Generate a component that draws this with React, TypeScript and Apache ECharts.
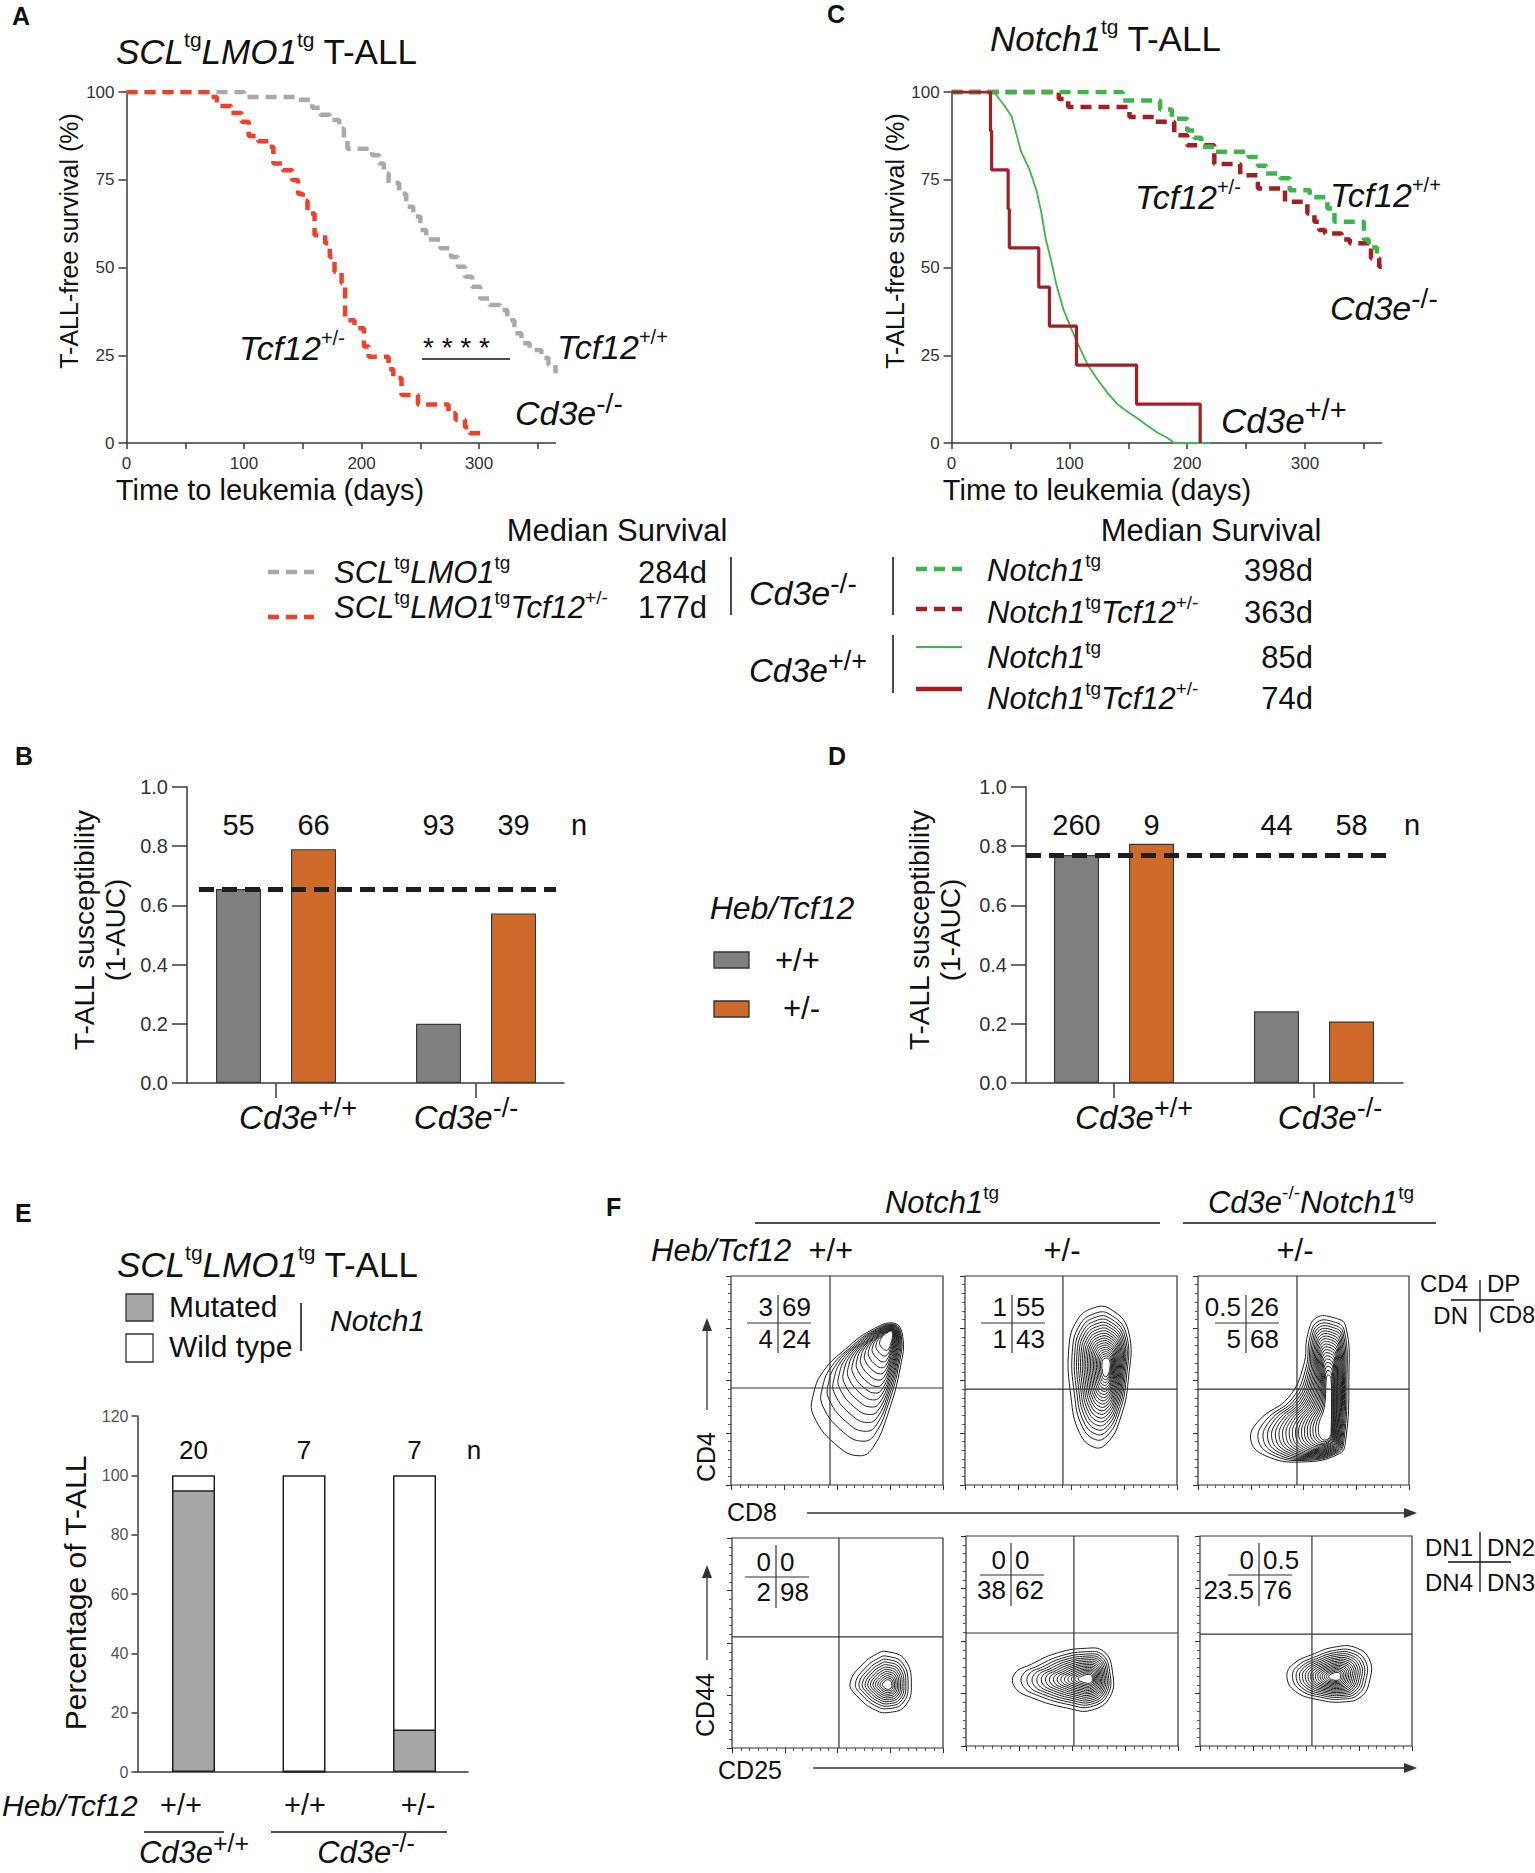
import React, { useEffect, useRef } from "react";
import * as echarts from "echarts";

const FONT = "'Liberation Sans', Arial, Helvetica, sans-serif";
const INK = "#111111";
const AXIS = "#3a3a3a";

// ---------------- Panel A : SCLtgLMO1tg T-ALL (Cd3e-/-) ----------------
const daysTicks = [0, 50, 100, 150, 200, 250, 300, 350];
const daysLabels = [0, 100, 200, 300];
// [day, % T-ALL-free]
const sclLmo1Tcf12WT = [
  [0, 100], [100, 98.6], [145, 97.8], [158, 95.5], [165, 93.5], [173, 92], [181, 89.5], [185, 86.5],
  [188, 83.8], [209, 82], [215, 79.6], [219, 76.8], [223, 74.1], [232, 71], [238, 67.3], [244, 64.5],
  [250, 60.7], [255, 58], [267, 55.5], [276, 53], [282, 50.2], [288, 47.4], [294, 44.5], [301, 41.2],
  [309, 39.3], [318, 37.9], [324, 35], [330, 31.3], [336, 28.4], [343, 26.5], [353, 24.2], [359, 22.3],
  [365, 19.9],
];
const sclLmo1Tcf12Het = [
  [0, 100], [72, 98.6], [77, 96], [89, 94], [98, 91.5], [104, 87.5], [112, 86], [121, 84.4], [125, 79.6],
  [133, 77.7], [141, 74.9], [146, 71], [150, 69], [154, 65.4], [160, 59.2], [169, 56.9], [173, 53],
  [177, 48.8], [183, 45.5], [186, 35], [194, 32.7], [202, 27.5], [206, 24.6], [223, 21], [227, 18.5],
  [234, 13.7], [248, 11], [274, 8.5], [280, 6.6], [288, 4.5], [292, 2.8], [301, 2.8],
];
const medianA = [284, 177];

// ---------------- Panel C : Notch1tg T-ALL ----------------
const notch1Cd3eKoTcf12WT = [
  [0, 100], [145, 97.6], [177, 95], [187, 92.4], [200, 89], [206, 87], [212, 84.4], [223, 83],
  [252, 81.5], [260, 79], [267, 76.8], [279, 75.4], [287, 72], [304, 70], [319, 66.8], [325, 63],
  [350, 58], [354, 55.7], [361, 54],
];
const notch1Cd3eKoTcf12Het = [
  [0, 100], [91, 98], [99, 95.7], [151, 92.9], [172, 91.5], [189, 87.7], [200, 84.8], [223, 79.5],
  [245, 76.3], [260, 72.5], [283, 68.7], [302, 65.4], [308, 63], [312, 60.7], [317, 59.7], [331, 58],
  [338, 56.9], [356, 52.6], [363, 50.2], [371, 47.9],
];
const notch1Cd3eWtTcf12WT = [
  [0, 100], [36, 100], [45, 96], [51, 93], [55, 88], [59, 83], [66, 78], [72, 72], [76, 66], [80, 58],
  [84.5, 52], [89, 45], [95, 38], [101, 33], [107.5, 28], [116, 22], [124, 18], [133, 14], [141, 11],
  [149, 9], [158, 7], [166, 5], [174.5, 3], [183, 1.5], [189, 0], [220, 0],
];
const notch1Cd3eWtTcf12Het = [
  [0, 100], [33, 88.9], [34, 77.8], [48, 66.7], [49, 55.6], [74, 44.4], [83, 33.3], [106, 22.2],
  [157, 11.1], [211, 0],
];
const medianC = [398, 363, 85, 74];

// ---------------- Panels B / D : T-ALL susceptibility (1-AUC) ----------------
const cd3eGroups = ["+/+", "-/-"];
const suscB_Tcf12WT = [0.655, 0.2];
const suscB_Tcf12Het = [0.79, 0.573];
const nB_Tcf12WT = [55, 93];
const nB_Tcf12Het = [66, 39];
const suscD_Tcf12WT = [0.77, 0.242];
const suscD_Tcf12Het = [0.808, 0.208];
const nD_Tcf12WT = [260, 44];
const nD_Tcf12Het = [9, 58];
const suscTicks = [0, 0.2, 0.4, 0.6, 0.8, 1.0];

// ---------------- Panel E : Notch1 mutation status ----------------
const eTcf12 = ["+/+", "+/+", "+/-"];
const eCd3e = ["+/+", "-/-"];
const eMutated = [95, 0, 14.3];
const eWildType = [5, 100, 85.7];
const eN = [20, 7, 7];

// ---------------- Panel F : flow cytometry ----------------
const fTcf12 = ["+/+", "+/-", "+/-"];
// quadrant percentages: [upper-left, upper-right, lower-left, lower-right]
const cd4cd8Stats = [["3", "69", "4", "24"], ["1", "55", "1", "43"], ["0.5", "26", "5", "68"]];
const dnStats = [["0", "0", "2", "98"], ["0", "0", "38", "62"], ["0", "0.5", "23.5", "76"]];
// gates [CD8 / CD25 cut, CD4 / CD44 cut] in display units (0-1)
const cd4cd8Gates = [[0.467, 0.464], [0.462, 0.459], [0.469, 0.459]];
const dnGates = [[0.507, 0.529], [0.509, 0.538], [0.528, 0.533]];
// outer contour of each population and its densest point (display units)
const cd4cd8Contours = [
  [[0.77, 0.774], [0.81, 0.71], [0.8, 0.57], [0.74, 0.34], [0.67, 0.18], [0.61, 0.14], [0.51, 0.18],
   [0.39, 0.33], [0.39, 0.44], [0.44, 0.55], [0.54, 0.65], [0.66, 0.74]],
  [[0.68, 0.845], [0.77, 0.74], [0.77, 0.5], [0.73, 0.31], [0.67, 0.2], [0.61, 0.18], [0.54, 0.25],
   [0.5, 0.42], [0.49, 0.66], [0.53, 0.79], [0.6, 0.845]],
  [[0.645, 0.8], [0.7, 0.76], [0.715, 0.5], [0.7, 0.215], [0.67, 0.15], [0.49, 0.11], [0.32, 0.14],
   [0.25, 0.215], [0.29, 0.31], [0.43, 0.42], [0.5, 0.57], [0.52, 0.72], [0.56, 0.8]],
];
const cd4cd8Centers = [[0.755, 0.73], [0.67, 0.57], [0.62, 0.3]];
const cd4cd8Levels = [15, 20, 20];
const cd4cd8Keep = [1, 1, 0.4];
const dnContours = [
  [[0.73, 0.46], [0.82, 0.42], [0.85, 0.29], [0.82, 0.2], [0.75, 0.17], [0.68, 0.18], [0.59, 0.25],
   [0.56, 0.31], [0.62, 0.4], [0.69, 0.45]],
  [[0.56, 0.465], [0.65, 0.45], [0.69, 0.36], [0.68, 0.235], [0.59, 0.17], [0.48, 0.18], [0.31, 0.23],
   [0.23, 0.28], [0.23, 0.345], [0.31, 0.39], [0.42, 0.44]],
  [[0.73, 0.47], [0.8, 0.41], [0.8, 0.31], [0.76, 0.235], [0.68, 0.21], [0.56, 0.22], [0.45, 0.26],
   [0.41, 0.33], [0.44, 0.39], [0.54, 0.44], [0.63, 0.47]],
];
const dnCenters = [[0.74, 0.3], [0.58, 0.32], [0.64, 0.33]];
const dnLevels = [12, 16, 16];
const dnKeep = [1, 1, 1];

// ---------------- colours ----------------
const C_GRAY_A = "#a9a9a9";
const C_RED_A = "#f0402a";
const C_GREEN = "#3cb54a";
const C_DARKRED = "#a31f24";
const C_BAR_GRAY = "#808080";
const C_BAR_OR = "#d06a2b";
const C_E_GRAY = "#a5a6a8";

// ---------------- layout helpers ----------------
function richSet(F: number, bold = false) {
  const base: any = { fontFamily: FONT, fill: INK, color: INK, fontWeight: bold ? "bold" : "normal" };
  const lh = Math.round(F * 1.1);
  return {
    r: { ...base, fontSize: F, lineHeight: lh },
    i: { ...base, fontSize: F, lineHeight: lh, fontStyle: "italic" },
    s: { ...base, fontSize: Math.round(F * 0.6), verticalAlign: "top", height: Math.round(F * 0.46) },
    S: { ...base, fontSize: Math.round(F * 0.82), verticalAlign: "top", height: Math.round(F * 0.5) },
  };
}
const r = (t: string) => `{r|${t}}`;
const it = (t: string) => `{i|${t}}`;
const sp = (t: string) => `{s|${t}}`;
const SP = (t: string) => `{S|${t}}`;

function T(x: number, y: number, text: string, F: number, o: any = {}) {
  const align = o.align || "left";
  return {
    type: "text",
    x,
    y,
    rotation: o.rot ? Math.PI / 2 : 0,
    silent: true,
    z: 20,
    style: {
      text,
      rich: richSet(F, o.bold),
      fontFamily: FONT,
      fontSize: F,
      fill: INK,
      align,
      textAlign: align,
      verticalAlign: "middle",
      textVerticalAlign: "middle",
    },
  };
}
function L(x1: number, y1: number, x2: number, y2: number, stroke = INK, lineWidth = 1.5, dash?: number[]) {
  return {
    type: "line",
    silent: true,
    z: 20,
    shape: { x1, y1, x2, y2 },
    style: { stroke, lineWidth, lineDash: dash || null },
  };
}
function R(x: number, y: number, w: number, h: number, fill: string) {
  return { type: "rect", silent: true, z: 20, shape: { x, y, width: w, height: h }, style: { fill, stroke: "#333", lineWidth: 1.3 } };
}
function Tri(points: number[][]) {
  return { type: "polygon", silent: true, z: 20, shape: { points }, style: { fill: "#333" } };
}

const BAR_OFF = 0.1875;
const N_Y_BD = 0.872;
const N_Y_E = 108.5;

function buildOption() {
  const grids: any[] = [
    { left: 126.5, top: 92, width: 429, height: 351 }, // 0 A
    { left: 951.6, top: 92, width: 430, height: 351 }, // 1 C
    { left: 187, top: 787, width: 377, height: 296 }, // 2 B
    { left: 1026, top: 787, width: 377, height: 296 }, // 3 D
    { left: 137.5, top: 1416, width: 330.5, height: 356 }, // 4 E
    { left: 731, top: 1276, width: 212, height: 209 }, // 5 F top
    { left: 965, top: 1276, width: 212, height: 209 },
    { left: 1198, top: 1276, width: 211, height: 209 },
    { left: 732, top: 1538, width: 211, height: 210 }, // 8 F bottom
    { left: 966, top: 1536, width: 212, height: 210 },
    { left: 1200, top: 1536, width: 212, height: 210 },
  ].map((g, i) => ({
    ...g,
    containLabel: false,
    outerBoundsMode: "none",
    show: i >= 5,
    borderColor: "#333",
    borderWidth: 1.2,
    backgroundColor: "transparent",
  }));

  const axisLine = { show: true, onZero: false, lineStyle: { color: AXIS, width: 1.5 } };
  const tickStyle = { color: AXIS, width: 1.5 };

  const survX = (gi: number) => ({
    type: "value", gridIndex: gi, min: 0, max: 365,
    axisLine,
    axisTick: { show: true, customValues: daysTicks, length: 6, lineStyle: tickStyle },
    axisLabel: { show: true, customValues: daysLabels, fontSize: 17, color: "#333", margin: 12, fontFamily: FONT },
    splitLine: { show: false },
  });
  const survY = (gi: number) => ({
    type: "value", gridIndex: gi, min: 0, max: 100, interval: 25,
    axisLine,
    axisTick: { show: true, length: 8, lineStyle: tickStyle },
    axisLabel: { show: true, fontSize: 17, color: "#333", margin: 12, fontFamily: FONT },
    splitLine: { show: false },
  });
  const barX = (gi: number, min: number, max: number) => ({
    type: "value", gridIndex: gi, min, max,
    axisLine,
    axisTick: { show: true, customValues: [0, 1], length: 15, lineStyle: tickStyle },
    axisLabel: { show: false },
    splitLine: { show: false },
  });
  const barY = (gi: number) => ({
    type: "value", gridIndex: gi, min: 0, max: 1, interval: 0.2,
    axisLine,
    axisTick: { show: true, customValues: suscTicks, length: 15, lineStyle: tickStyle },
    axisLabel: {
      show: true, customValues: suscTicks, fontSize: 20, color: "#333", margin: 19, fontFamily: FONT,
      formatter: (v: number) => v.toFixed(1),
    },
    splitLine: { show: false },
  });
  const fAxis = (gi: number) => ({
    type: "value", gridIndex: gi, min: 0, max: 1, interval: 0.25,
    axisLine: { show: false, onZero: false },
    axisTick: { show: true, length: 5, lineStyle: { color: "#333", width: 1 } },
    minorTick: { show: true, splitNumber: 6, length: 3, lineStyle: { color: "#333", width: 0.8 } },
    axisLabel: { show: false },
    splitLine: { show: false },
  });

  const xAxis: any[] = [
    survX(0), survX(1),
    barX(2, -0.445, 1.44), barX(3, -0.44, 1.445),
    {
      type: "value", gridIndex: 4, min: -0.507, max: 2.484,
      axisLine, axisTick: { show: false }, axisLabel: { show: false }, splitLine: { show: false },
    },
    fAxis(5), fAxis(6), fAxis(7), fAxis(8), fAxis(9), fAxis(10),
  ];
  const yAxis: any[] = [
    survY(0), survY(1), barY(2), barY(3),
    {
      type: "value", gridIndex: 4, min: 0, max: 120, interval: 20,
      axisLine, axisTick: { show: true, length: 6, lineStyle: tickStyle },
      axisLabel: { show: true, fontSize: 16, color: "#555", margin: 9, fontFamily: FONT },
      splitLine: { show: false },
    },
    fAxis(5), fAxis(6), fAxis(7), fAxis(8), fAxis(9), fAxis(10),
  ];

  const km = (gi: number, data: number[][], color: string, width: number, dash: any, step: any = "end", clip = true) => ({
    type: "line", xAxisIndex: gi, yAxisIndex: gi, data, step, symbol: "none", showSymbol: false,
    silent: true, clip, z: 3,
    lineStyle: { color, width, type: dash },
  });

  const barSeries = (gi: number, values: number[], sign: number, color: string, ref?: any) => ({
    type: "bar", xAxisIndex: gi, yAxisIndex: gi, barWidth: 45, barGap: "-100%", silent: true,
    data: values.map((v, i) => [i + sign * BAR_OFF, v]),
    itemStyle: { color, borderColor: "#3a3a3a", borderWidth: 1.2 },
    markLine: ref
      ? {
          silent: true, symbol: "none", label: { show: false },
          lineStyle: { color: "#1e1e1e", width: 5, type: [15, 8] },
          data: [[{ coord: [ref.from, ref.value] }, { coord: [ref.to, ref.value] }]],
        }
      : undefined,
  });
  const nLabel = (F: number) => ({
    show: true, position: "inside", formatter: "{b}", fontSize: F, color: INK, opacity: 1, fontFamily: FONT,
  });
  const nSeries = (gi: number, nWT: number[], nHet: number[]) => ({
    type: "scatter", xAxisIndex: gi, yAxisIndex: gi, symbolSize: 0, silent: true, z: 10,
    itemStyle: { opacity: 1 },
    data: cd3eGroups.flatMap((g, i) => [
      { name: String(nWT[i]), value: [i - BAR_OFF, N_Y_BD] },
      { name: String(nHet[i]), value: [i + BAR_OFF, N_Y_BD] },
    ]),
    label: nLabel(29),
  });

  const fSeries = (gi: number, p: number, row: number) => {
    const contour = row === 0 ? cd4cd8Contours[p] : dnContours[p];
    const center = row === 0 ? cd4cd8Centers[p] : dnCenters[p];
    const levels = row === 0 ? cd4cd8Levels[p] : dnLevels[p];
    const keep = row === 0 ? cd4cd8Keep[p] : dnKeep[p];
    const gate = row === 0 ? cd4cd8Gates[p] : dnGates[p];
    const stats = row === 0 ? cd4cd8Stats[p] : dnStats[p];
    return {
      type: "custom", coordinateSystem: "cartesian2d", xAxisIndex: gi, yAxisIndex: gi, silent: true,
      data: [center],
      renderItem: (params: any, api: any) => {
        const cs = params.coordSys;
        const children: any[] = [];
        for (let k = 0; k < levels; k++) {
          const t = k / levels;
          const s = 1 - 0.9 * Math.pow(t, 0.75);
          const sy = Math.pow(s, keep);
          const pts = contour.map(([x, y]) =>
            api.coord([center[0] + (x - center[0]) * s, center[1] + (y - center[1]) * sy])
          );
          children.push({
            type: "polygon",
            shape: { points: pts, smooth: 0.45 },
            style: { fill: "none", stroke: "#1e1e1e", lineWidth: 1 },
          });
        }
        const a = api.coord([gate[0], 0]);
        const b = api.coord([gate[0], 1]);
        const c = api.coord([0, gate[1]]);
        const d = api.coord([1, gate[1]]);
        children.push({ type: "line", shape: { x1: a[0], y1: a[1], x2: b[0], y2: b[1] }, style: { stroke: "#333", lineWidth: 1.2 } });
        children.push({ type: "line", shape: { x1: c[0], y1: c[1], x2: d[0], y2: d[1] }, style: { stroke: "#333", lineWidth: 1.2 } });
        // quadrant statistics
        const sepOff = row === 0 ? [47, 47, 48][p] : [44, 45, 59][p];
        const sx = cs.x + sepOff;
        const r1 = row === 0 ? cs.y + 31 : cs.y + 24;
        const r2 = row === 0 ? cs.y + 63 : cs.y + 54;
        const hy = row === 0 ? cs.y + 47 : cs.y + 39;
        const vy1 = row === 0 ? cs.y + 19 : cs.y + 7;
        const vy2 = row === 0 ? cs.y + 77 : cs.y + 70;
        children.push({ type: "line", shape: { x1: sx, y1: vy1, x2: sx, y2: vy2 }, style: { stroke: "#333", lineWidth: 1.2 } });
        children.push({ type: "line", shape: { x1: sx - 31, y1: hy, x2: sx + 33, y2: hy }, style: { stroke: "#333", lineWidth: 1.2 } });
        const tx = (x: number, y: number, text: string, align: string) => ({
          type: "text", x, y,
          style: { text, fontSize: 26, fontFamily: FONT, fill: INK, align, textAlign: align, verticalAlign: "middle", textVerticalAlign: "middle" },
        });
        children.push(tx(sx - 5, r1, stats[0], "right"));
        children.push(tx(sx + 4, r1, stats[1], "left"));
        children.push(tx(sx - 5, r2, stats[2], "right"));
        children.push(tx(sx + 4, r2, stats[3], "left"));
        return { type: "group", children };
      },
    };
  };

  const series: any[] = [
    // A
    km(0, sclLmo1Tcf12WT, C_GRAY_A, 4.5, [11, 7]),
    km(0, sclLmo1Tcf12Het, C_RED_A, 4.5, [11, 7]),
    // C
    km(1, notch1Cd3eKoTcf12Het, C_DARKRED, 4.5, [11, 7], "end", false),
    km(1, notch1Cd3eKoTcf12WT, C_GREEN, 4.5, [11, 7]),
    km(1, notch1Cd3eWtTcf12WT, C_GREEN, 1.8, "solid", false),
    km(1, notch1Cd3eWtTcf12Het, C_DARKRED, 3.2, "solid"),
    // B
    barSeries(2, suscB_Tcf12WT, -1, C_BAR_GRAY, { from: -0.385, to: 1.4, value: suscB_Tcf12WT[0] }),
    barSeries(2, suscB_Tcf12Het, 1, C_BAR_OR),
    nSeries(2, nB_Tcf12WT, nB_Tcf12Het),
    // D
    barSeries(3, suscD_Tcf12WT, -1, C_BAR_GRAY, { from: -0.44, to: 1.385, value: suscD_Tcf12WT[0] }),
    barSeries(3, suscD_Tcf12Het, 1, C_BAR_OR),
    nSeries(3, nD_Tcf12WT, nD_Tcf12Het),
    // E : wild type drawn as the full stack top, mutated drawn over its lower part
    {
      type: "bar", xAxisIndex: 4, yAxisIndex: 4, barWidth: 43, barGap: "-100%", silent: true,
      data: eWildType.map((v, i) => [i, v + eMutated[i]]),
      itemStyle: { color: "#ffffff", borderColor: "#222", borderWidth: 1.5 },
    },
    {
      type: "bar", xAxisIndex: 4, yAxisIndex: 4, barWidth: 43, barGap: "-100%", silent: true,
      data: eMutated.map((v, i) => [i, v]),
      itemStyle: { color: C_E_GRAY, borderColor: "#222", borderWidth: 1.5 },
    },
    {
      type: "scatter", xAxisIndex: 4, yAxisIndex: 4, symbolSize: 0, silent: true, z: 10,
      itemStyle: { opacity: 1 },
      data: eN.map((n, i) => ({ name: String(n), value: [i, N_Y_E] })),
      label: nLabel(26),
    },
    // F
    fSeries(5, 0, 0), fSeries(6, 1, 0), fSeries(7, 2, 0),
    fSeries(8, 0, 1), fSeries(9, 1, 1), fSeries(10, 2, 1),
  ];

  const sclLmo = it("SCL") + sp("tg") + it("LMO1") + sp("tg");
  const notch1 = it("Notch1") + sp("tg");
  const tcf12Het = it("Tcf12") + sp("+/-");
  const tcf12WT = it("Tcf12") + sp("+/+");
  const cd3e = (g: string) => it("Cd3e") + SP(g);

  const graphic: any[] = [
    // panel letters
    T(12, 16, r("A"), 25, { bold: true }),
    T(827, 14, r("C"), 25, { bold: true }),
    T(15, 756, r("B"), 25, { bold: true }),
    T(828, 756, r("D"), 25, { bold: true }),
    T(15, 1213, r("E"), 25, { bold: true }),
    T(606, 1207, r("F"), 25, { bold: true }),

    // ---- A ----
    T(116, 51, sclLmo + r(" T-ALL"), 35),
    T(69, 241, r("T-ALL-free survival (%)"), 25, { rot: true, align: "center" }),
    T(270, 490, r("Time to leukemia (days)"), 29, { align: "center" }),
    T(239, 348, tcf12Het, 34),
    T(423, 347, r("* * * *"), 28),
    L(422, 359, 510, 359, INK, 1.5),
    T(557, 347, tcf12WT, 34),
    T(515, 413, cd3e("-/-"), 34),

    // ---- C ----
    T(990, 38, notch1 + r(" T-ALL"), 35),
    T(895, 241, r("T-ALL-free survival (%)"), 25, { rot: true, align: "center" }),
    T(1097, 490, r("Time to leukemia (days)"), 29, { align: "center" }),
    T(1135, 197, tcf12Het, 34),
    T(1330, 195, tcf12WT, 34),
    T(1330, 308, cd3e("-/-"), 34),
    T(1221, 420, cd3e("+/+"), 35),

    // ---- median survival legends ----
    T(617, 530, r("Median Survival"), 31, { align: "center" }),
    T(1211, 530, r("Median Survival"), 31, { align: "center" }),
    L(268, 572, 314, 572, C_GRAY_A, 4.5, [11, 7]),
    L(268, 617, 314, 617, C_RED_A, 4.5, [11, 7]),
    T(334, 572, sclLmo, 31),
    T(334, 607, sclLmo + tcf12Het, 31),
    T(707, 572, r(`${medianA[0]}d`), 31, { align: "right" }),
    T(707, 607, r(`${medianA[1]}d`), 31, { align: "right" }),
    L(731, 557, 731, 615, INK, 1.5),
    T(749, 593, cd3e("-/-"), 34),
    L(893, 557, 893, 615, INK, 1.5),
    L(893, 635, 893, 693, INK, 1.5),
    T(749, 670, cd3e("+/+"), 33),
    L(916, 569, 962, 569, C_GREEN, 4.5, [11, 7]),
    L(916, 609, 962, 609, C_DARKRED, 4.5, [11, 7]),
    L(916, 647, 962, 647, C_GREEN, 2),
    L(916, 689, 962, 689, C_DARKRED, 4.5),
    T(987, 570, notch1, 31),
    T(987, 612, notch1 + tcf12Het, 31),
    T(987, 657, notch1, 31),
    T(987, 698, notch1 + tcf12Het, 31),
    T(1313, 570, r(`${medianC[0]}d`), 31, { align: "right" }),
    T(1313, 612, r(`${medianC[1]}d`), 31, { align: "right" }),
    T(1313, 657, r(`${medianC[2]}d`), 31, { align: "right" }),
    T(1313, 698, r(`${medianC[3]}d`), 31, { align: "right" }),

    // ---- B ----
    T(100, 930, r("T-ALL susceptibility") + "\n" + r("(1-AUC)"), 28, { rot: true, align: "center" }),
    T(579, 825, r("n"), 29, { align: "center" }),
    T(298, 1117, cd3e(cd3eGroups[0]), 33, { align: "center" }),
    T(466, 1117, cd3e(cd3eGroups[1]), 33, { align: "center" }),

    // ---- Heb/Tcf12 legend ----
    T(782, 908, it("Heb/Tcf12"), 32, { align: "center" }),
    R(714, 952, 35, 16, C_BAR_GRAY),
    T(775, 960, r("+/+"), 31),
    R(714, 1001, 35, 16, C_BAR_OR),
    T(783, 1008, r("+/-"), 31),

    // ---- D ----
    T(935, 930, r("T-ALL susceptibility") + "\n" + r("(1-AUC)"), 28, { rot: true, align: "center" }),
    T(1412, 825, r("n"), 29, { align: "center" }),
    T(1134, 1117, cd3e(cd3eGroups[0]), 33, { align: "center" }),
    T(1330, 1117, cd3e(cd3eGroups[1]), 33, { align: "center" }),

    // ---- E ----
    T(117, 1264, sclLmo + r(" T-ALL"), 35),
    R(126, 1294, 27, 27, C_E_GRAY),
    R(126, 1334, 27, 28, "#ffffff"),
    T(169, 1306, r("Mutated"), 30),
    T(169, 1346, r("Wild type"), 30),
    L(301, 1303, 301, 1351, INK, 1.5),
    T(330, 1320, it("Notch1"), 30),
    T(75, 1593, r("Percentage of T-ALL"), 30, { rot: true, align: "center" }),
    T(474, 1450, r("n"), 26, { align: "center" }),
    T(2, 1805, it("Heb/Tcf12"), 30),
    T(181, 1805, r(eTcf12[0]), 29, { align: "center" }),
    T(305, 1805, r(eTcf12[1]), 29, { align: "center" }),
    T(418, 1805, r(eTcf12[2]), 29, { align: "center" }),
    L(144, 1832, 224, 1832, INK, 1.5),
    L(271, 1832, 447, 1832, INK, 1.5),
    T(194, 1852, cd3e(eCd3e[0]), 31, { align: "center" }),
    T(366, 1852, cd3e(eCd3e[1]), 31, { align: "center" }),

    // ---- F ----
    T(942, 1202, notch1, 31, { align: "center" }),
    L(755, 1223, 1160, 1223, INK, 1.3),
    T(1311, 1202, it("Cd3e") + sp("-/-") + notch1, 31, { align: "center" }),
    L(1183, 1223, 1436, 1223, INK, 1.3),
    T(651, 1250, it("Heb/Tcf12") + r("  " + fTcf12[0]), 31),
    T(1062, 1250, r(fTcf12[1]), 31, { align: "center" }),
    T(1295, 1250, r(fTcf12[2]), 31, { align: "center" }),
    T(1468, 1283, r("CD4"), 24, { align: "right" }),
    T(1487, 1283, r("DP"), 24),
    T(1468, 1315, r("DN"), 24, { align: "right" }),
    T(1489, 1315, r("CD8"), 23),
    L(1480, 1280, 1480, 1332, INK, 1.3),
    L(1451, 1300, 1514, 1300, INK, 1.3),
    T(1473, 1547, r("DN1"), 24, { align: "right" }),
    T(1487, 1547, r("DN2"), 24),
    T(1473, 1582, r("DN4"), 24, { align: "right" }),
    T(1487, 1582, r("DN3"), 24),
    L(1480, 1532, 1480, 1592, INK, 1.3),
    L(1448, 1562, 1511, 1562, INK, 1.3),
    T(706, 1457, r("CD4"), 25, { rot: true, align: "center" }),
    L(707, 1410, 707, 1328, "#333", 1.3),
    Tri([[707, 1318], [702, 1331], [712, 1331]]),
    T(752, 1512, r("CD8"), 25, { align: "center" }),
    L(807, 1513, 1407, 1513, "#333", 1.3),
    Tri([[1417, 1513], [1404, 1508], [1404, 1518]]),
    T(705, 1705, r("CD44"), 25, { rot: true, align: "center" }),
    L(707, 1660, 707, 1575, "#333", 1.3),
    Tri([[707, 1565], [702, 1578], [712, 1578]]),
    T(750, 1770, r("CD25"), 25, { align: "center" }),
    L(813, 1768, 1407, 1768, "#333", 1.3),
    Tri([[1417, 1768], [1404, 1763], [1404, 1773]]),
  ];

  return {
    animation: false,
    backgroundColor: "#ffffff",
    textStyle: { fontFamily: FONT },
    grid: grids,
    xAxis,
    yAxis,
    series,
    graphic,
  };
}

export default function App() {
  const ref = useRef<HTMLDivElement>(null);
  useEffect(() => {
    if (!ref.current) return;
    const chart = echarts.init(ref.current, null, { renderer: "svg" });
    chart.setOption(buildOption() as any);
    return () => chart.dispose();
  }, []);
  return (
    <div
      ref={ref}
      style={{ position: "absolute", left: 0, top: 0, width: 1535, height: 1873, background: "#fff" }}
    />
  );
}
